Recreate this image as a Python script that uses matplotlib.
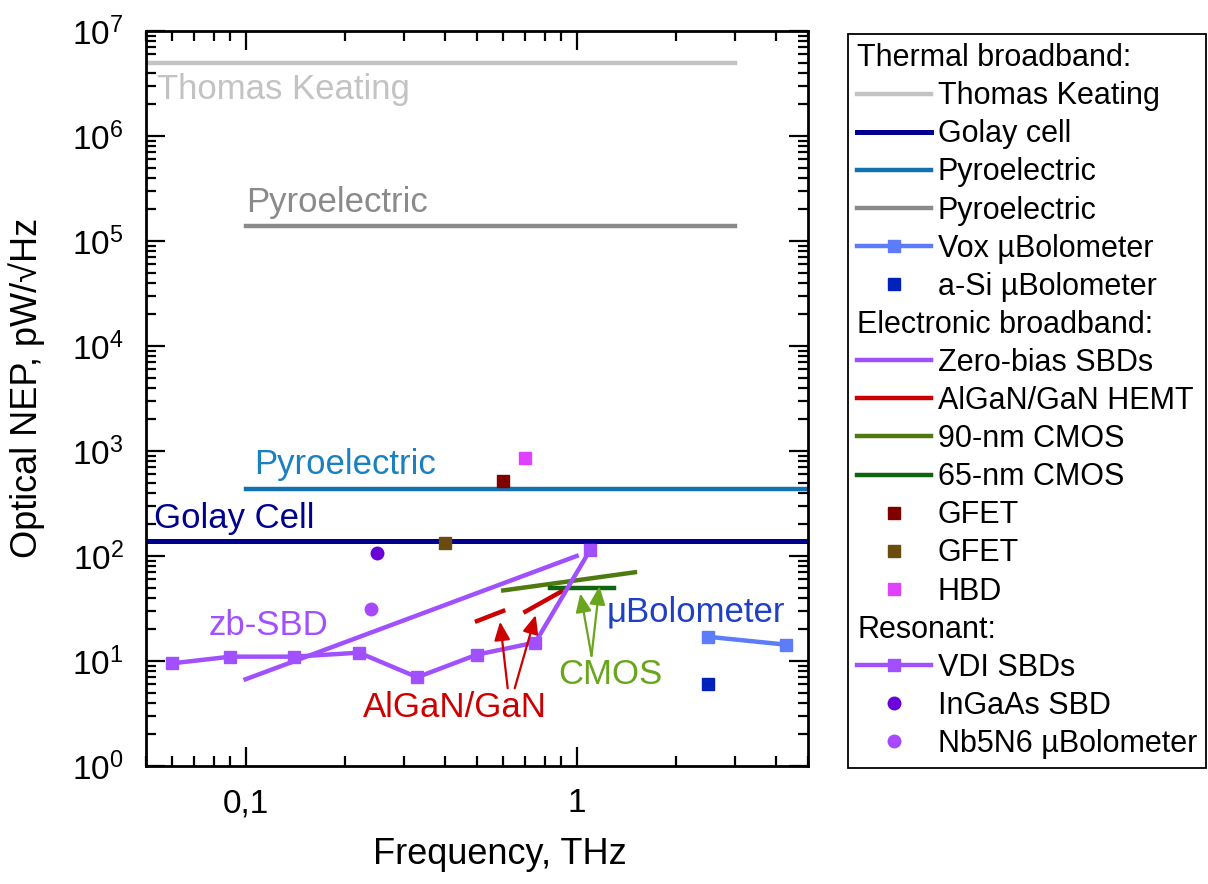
import numpy as np
import matplotlib
matplotlib.use("Agg")
import matplotlib.pyplot as plt
from matplotlib.lines import Line2D
from matplotlib.ticker import LogLocator, NullFormatter

# ---- data (frequency in THz, optical NEP in pW/sqrt(Hz)) ----
tk_freq = [0.05, 3.0]
tk_nep = [5.0e6, 5.0e6]

golay_freq = [0.05, 5.0]
golay_nep = [140, 140]

pyro_blue_freq = [0.1, 5.0]
pyro_blue_nep = [435, 435]

pyro_gray_freq = [0.1, 3.0]
pyro_gray_nep = [1.4e5, 1.4e5]

vox_freq = [2.5, 4.3]
vox_nep = [17, 14.3]

asi_freq = [2.5]
asi_nep = [6.0]

zb_freq = [0.1, 1.0]
zb_nep = [6.7, 100]

algan_freq = [0.5, 0.6, np.nan, 0.7, 0.9]
algan_nep = [24, 30, np.nan, 29.5, 46]

cmos90_freq = [0.6, 1.5]
cmos90_nep = [47, 70]

cmos65_freq = [0.83, 1.3]
cmos65_nep = [50, 50]

gfet1_freq = [0.6]
gfet1_nep = [520]

gfet2_freq = [0.4]
gfet2_nep = [132]

hbd_freq = [0.7]
hbd_nep = [850]

vdi_freq = [0.06, 0.09, 0.14, 0.22, 0.33, 0.5, 0.75, 1.1]
vdi_nep = [9.5, 11, 11, 12, 7, 11.5, 15, 115]

ingaas_freq = [0.25]
ingaas_nep = [107]

nb_freq = [0.24]
nb_nep = [31]

x_ticks = [0.1, 1]
x_tick_labels = ["0,1", "1"]
y_exponents = list(range(0, 8))

# ---- style ----
plt.rcParams["font.family"] = ["Liberation Sans", "DejaVu Sans"]
plt.rcParams["mathtext.default"] = "regular"

fig = plt.figure(figsize=(12.08, 8.84), dpi=100)
W, H = 1208, 884
ax = fig.add_axes([146 / W, 1 - 766 / H, (808 - 146) / W, (766 - 31) / H])
ax.set_xscale("log")
ax.set_yscale("log")

C_TK = "#c3c3c3"
C_GOLAY = "#00008f"
C_PYRO_B = "#1272b0"
C_PYRO_G = "#8a8a8a"
C_VOX = "#5c7cfa"
C_ASI = "#0022bb"
C_ZB = "#a050ff"
C_ALGAN = "#cc0000"
C_C90 = "#4f7a10"
C_C65 = "#0f6410"
C_GFET1 = "#800000"
C_GFET2 = "#6b4c10"
C_HBD = "#e040ff"
C_VDI = "#a050ff"
C_INGAAS = "#6a00d8"
C_NB = "#a848ff"

lw = 3.2
ms = 9

h_tk, = ax.plot(tk_freq, tk_nep, color=C_TK, lw=lw, label="Thomas Keating")
h_golay, = ax.plot(golay_freq, golay_nep, color=C_GOLAY, lw=3.6, label="Golay cell")
h_pb, = ax.plot(pyro_blue_freq, pyro_blue_nep, color=C_PYRO_B, lw=lw, label="Pyroelectric")
h_pg, = ax.plot(pyro_gray_freq, pyro_gray_nep, color=C_PYRO_G, lw=lw, label="Pyroelectric")
h_vox, = ax.plot(vox_freq, vox_nep, color=C_VOX, lw=lw, marker="s", ms=ms,
                 label="Vox \u00b5Bolometer")
h_asi, = ax.plot(asi_freq, asi_nep, color=C_ASI, ls="none", marker="s", ms=ms,
                 label="a-Si \u00b5Bolometer")
h_zb, = ax.plot(zb_freq, zb_nep, color=C_ZB, lw=lw, label="Zero-bias SBDs")
h_algan, = ax.plot(algan_freq, algan_nep, color=C_ALGAN, lw=lw, label="AlGaN/GaN HEMT")
h_c90, = ax.plot(cmos90_freq, cmos90_nep, color=C_C90, lw=lw, label="90-nm CMOS")
h_c65, = ax.plot(cmos65_freq, cmos65_nep, color=C_C65, lw=lw, label="65-nm CMOS")
h_g1, = ax.plot(gfet1_freq, gfet1_nep, color=C_GFET1, ls="none", marker="s", ms=ms, label="GFET")
h_g2, = ax.plot(gfet2_freq, gfet2_nep, color=C_GFET2, ls="none", marker="s", ms=ms, label="GFET")
h_hbd, = ax.plot(hbd_freq, hbd_nep, color=C_HBD, ls="none", marker="s", ms=ms, label="HBD")
h_vdi, = ax.plot(vdi_freq, vdi_nep, color=C_VDI, lw=lw, marker="s", ms=ms, label="VDI SBDs")
h_ing, = ax.plot(ingaas_freq, ingaas_nep, color=C_INGAAS, ls="none", marker="o", ms=ms,
                 label="InGaAs SBD")
h_nb, = ax.plot(nb_freq, nb_nep, color=C_NB, ls="none", marker="o", ms=ms,
                label="Nb5N6 \u00b5Bolometer")

# ---- in-plot labels ----
FS_ANN = 25
ax.text(0.054, 2.25e6, "Thomas Keating", color=C_TK, fontsize=FS_ANN, va="baseline")
ax.text(0.1, 1.9e5, "Pyroelectric", color=C_PYRO_G, fontsize=FS_ANN, va="baseline")
ax.text(0.106, 604, "Pyroelectric", color="#1a80c0", fontsize=FS_ANN, va="baseline")
ax.text(0.0529, 184, "Golay Cell", color=C_GOLAY, fontsize=FS_ANN, va="baseline")
ax.text(0.0773, 17.7, "zb-SBD", color=C_ZB, fontsize=FS_ANN, va="baseline")
ax.text(0.2257, 2.95, "AlGaN/GaN", color=C_ALGAN, fontsize=FS_ANN, va="baseline")
ax.text(0.879, 6.04, "CMOS", color="#6aa51e", fontsize=FS_ANN, va="baseline")
ax.text(1.236, 23.7, "\u03bcBolometer", color="#1f3fc4", fontsize=FS_ANN, va="baseline")

arrow_kw = dict(arrowstyle="-|>,head_length=0.7,head_width=0.3", lw=1.6,
                mutation_scale=16, shrinkA=0, shrinkB=0)
for tail, head in [((0.619, 5.5), (0.587, 23.7)), ((0.650, 5.5), (0.752, 27.4))]:
    ax.annotate("", xy=head, xytext=tail, arrowprops=dict(color=C_ALGAN, **arrow_kw))
for tail, head in [((1.109, 11.2), (1.026, 44.0)), ((1.109, 11.2), (1.172, 51.8))]:
    ax.annotate("", xy=head, xytext=tail, arrowprops=dict(color="#6aa51e", **arrow_kw))

# ---- axes ----
ax.set_xlim(0.05, 5)
ax.set_ylim(1, 1e7)
ax.set_xticks(x_ticks)
ax.set_xticklabels(x_tick_labels)
ax.set_yticks([10.0 ** k for k in y_exponents])
ax.set_yticklabels([rf"$10^{{{k}}}$" for k in y_exponents])
ax.xaxis.set_minor_locator(LogLocator(base=10, subs=np.arange(2, 10), numticks=20))
ax.yaxis.set_minor_locator(LogLocator(base=10, subs=np.arange(2, 10), numticks=20))
ax.xaxis.set_minor_formatter(NullFormatter())
ax.yaxis.set_minor_formatter(NullFormatter())
ax.tick_params(which="both", direction="in", top=True, right=True, width=1.6, colors="black")
ax.tick_params(which="major", length=14, labelsize=24, pad=16)
ax.tick_params(which="minor", length=7)
for s in ax.spines.values():
    s.set_linewidth(2)

ax.set_xlabel("Frequency, THz", fontsize=26)
ax.set_ylabel("Optical NEP, pW/\u221aHz", fontsize=26)
ax.xaxis.set_label_coords(0.535, -0.096)
ax.yaxis.set_label_coords(-0.152, 0.515)

# ---- legend with section headings ----
def heading():
    return Line2D([], [], linestyle="none")

handles = [heading(), h_tk, h_golay, h_pb, h_pg, h_vox, h_asi,
           heading(), h_zb, h_algan, h_c90, h_c65, h_g1, h_g2, h_hbd,
           heading(), h_vdi, h_ing, h_nb]
labels = ["Thermal broadband:", "Thomas Keating", "Golay cell", "Pyroelectric", "Pyroelectric",
          "Vox \u00b5Bolometer", "a-Si \u00b5Bolometer",
          "Electronic broadband:", "Zero-bias SBDs", "AlGaN/GaN HEMT", "90-nm CMOS",
          "65-nm CMOS", "GFET", "GFET", "HBD",
          "Resonant:", "VDI SBDs", "InGaAs SBD", "Nb5N6 \u00b5Bolometer"]
heading_idx = {0, 7, 15}

leg = fig.legend(handles, labels, loc="upper left", bbox_to_anchor=(848 / W, 1 - 34 / H),
                 bbox_transform=fig.transFigure, fontsize=22, frameon=True, fancybox=False,
                 edgecolor="black", framealpha=1, numpoints=1, handlelength=2.42,
                 handletextpad=0.22, borderpad=0.3, labelspacing=0.265, borderaxespad=0)
leg.get_frame().set_linewidth(1.3)

rows = leg._legend_handle_box.get_children()[0].get_children()
for i, row in enumerate(rows):
    if i in heading_idx:
        row.get_children()[0].width = 0
        row.sep = 0

fig.savefig("out.png", dpi=100)
